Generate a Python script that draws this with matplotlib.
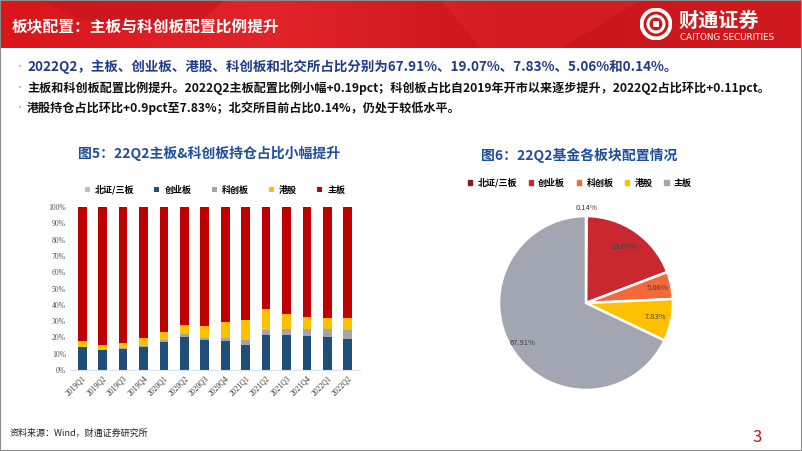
import numpy as np
import matplotlib.pyplot as plt
from matplotlib.patches import Rectangle, Circle, Polygon, Patch
from matplotlib.colors import LinearSegmentedColormap

plt.rcParams['font.family'] = ['Noto Sans CJK SC', 'DejaVu Sans']

# 持仓占比（%），按季度
quarters = ['2019Q1', '2019Q2', '2019Q3', '2019Q4', '2020Q1', '2020Q2', '2020Q3',
            '2020Q4', '2021Q1', '2021Q2', '2021Q3', '2021Q4', '2022Q1', '2022Q2']
bse = [0.0, 0.0, 0.0, 0.0, 0.05, 0.05, 0.05, 0.05, 0.05, 0.05, 0.05, 0.1, 0.12, 0.14]
gem = [13.9, 12.2, 12.9, 14.3, 17.1, 20.4, 18.2, 17.8, 15.5, 21.2, 21.6, 20.8, 20.4, 19.07]
star = [0.0, 0.0, 0.3, 0.6, 1.3, 1.8, 1.6, 2.0, 2.7, 3.5, 3.7, 4.1, 4.7, 5.06]
hk = [3.7, 3.3, 3.4, 4.5, 4.7, 5.1, 7.1, 9.4, 12.6, 12.4, 9.0, 7.5, 6.9, 7.83]
main = [100 - a - b - c - d for a, b, c, d in zip(bse, gem, star, hk)]

pie_labels = ['北证/三板', '创业板', '科创板', '港股', '主板']
pie_vals = [0.14, 19.07, 5.06, 7.83, 67.91]

W, H = 802, 451
fig = plt.figure(figsize=(W / 100, H / 100), dpi=100)

def fx(x):
    return x / W

def fy(y):
    return 1 - y / H

# ---- 顶部红色标题栏
hdr = fig.add_axes([0, fy(48), 1, 48 / H])
grad = np.linspace(0, 1, 256).reshape(1, -1)
cm = LinearSegmentedColormap.from_list('hdr', ['#D9161C', '#E0242A', '#C8141A', '#D01A20'])
hdr.imshow(grad, aspect='auto', cmap=cm, extent=[0, 1, 0, 1])
hdr.add_patch(Polygon([[0.05, 1], [0.28, 1], [0.24, 0.4], [0.1, 0.6]], closed=True,
                      color='#C0121A', alpha=0.5, lw=0))
hdr.add_patch(Polygon([[0.55, 1], [0.8, 1], [0.7, 0.0], [0.6, 0.0]], closed=True,
                      color='#F0343A', alpha=0.25, lw=0))
hdr.set_xlim(0, 1)
hdr.set_ylim(0, 1)
hdr.axis('off')

fig.text(fx(12), fy(27), '板块配置：主板与科创板配置比例提升', color='white',
         fontsize=11.3, fontweight='bold', va='center', ha='left')

# logo
lx, ly = 656, 24
logo = fig.add_axes([fx(lx - 16), fy(ly + 16), 32 / W, 32 / H])
logo.set_xlim(-1, 1)
logo.set_ylim(-1, 1)
logo.set_aspect('equal')
logo.axis('off')
logo.add_patch(Circle((0, 0), 0.9, fc='none', ec='white', lw=2.8))
logo.add_patch(Circle((0, 0), 0.5, fc='none', ec='white', lw=2.2))
logo.add_patch(Rectangle((-0.17, -0.17), 0.34, 0.34, fc='white', ec='none'))
fig.text(fx(679), fy(20), '财通证券', color='white', fontsize=14.5, fontweight='bold',
         va='center', ha='left')
fig.text(fx(680), fy(38), 'CAITONG SECURITIES', color='white', fontsize=6.3,
         va='center', ha='left', family=['DejaVu Sans'])

# ---- 要点
bullet_c = '#E3A46E'
lines = [
    ('2022Q2，主板、创业板、港股、科创板和北交所占比分别为67.91%、19.07%、7.83%、5.06%和0.14%。', 67, '#1F3C8C', 9.7),
    ('主板和科创板配置比例提升。2022Q2主板配置比例小幅+0.19pct；科创板占比自2019年开市以来逐步提升，2022Q2占比环比+0.11pct。', 88, '#111111', 8.7),
    ('港股持仓占比环比+0.9pct至7.83%；北交所目前占比0.14%，仍处于较低水平。', 108, '#111111', 8.7),
]
for txt, y, c, fs in lines:
    fig.text(fx(14), fy(y), '•', color=bullet_c, fontsize=7, va='center', ha='left')
    fig.text(fx(27), fy(y), txt, color=c, fontsize=fs, fontweight='bold', va='center', ha='left')

title_c = '#1F4E9A'
fig.text(fx(209), fy(153), '图5：22Q2主板&科创板持仓占比小幅提升', color=title_c,
         fontsize=10, fontweight='bold', ha='center', va='center')
fig.text(fx(579), fy(155), '图6：22Q2基金各板块配置情况', color=title_c,
         fontsize=10, fontweight='bold', ha='center', va='center')

# ---- 图5：堆积柱状图
ax = fig.add_axes([fx(70), fy(370), (360 - 70) / W, (370 - 207) / H])
x = np.arange(len(quarters))
bw = 0.43
series = [('北证/三板', bse, '#BFBFBF'), ('创业板', gem, '#1F4E79'),
          ('科创板', star, '#A5A5A5'), ('港股', hk, '#FFC000'), ('主板', main, '#C00000')]
bottom = np.zeros(len(quarters))
for name, vals, col in series:
    ax.bar(x, vals, bw, bottom=bottom, color=col, label=name, lw=0)
    bottom += np.array(vals)
ax.set_ylim(0, 100)
ax.set_xlim(-0.6, len(quarters) - 0.4)
ax.set_yticks(np.arange(0, 101, 10))
ax.set_yticklabels([f'{v}%' for v in range(0, 101, 10)], family=['Liberation Serif'],
                   fontsize=5.5, color='#555555')
ax.set_xticks(x)
ax.set_xticklabels(quarters, rotation=45, ha='right', rotation_mode='anchor',
                   family=['Liberation Serif'], fontsize=5.5, color='#333333')
ax.tick_params(length=0, pad=3)
for s in ['top', 'right', 'left']:
    ax.spines[s].set_visible(False)
ax.spines['bottom'].set_color('#D9E1EA')
ax.legend(loc='center', bbox_to_anchor=(0.5, 1.105), ncol=5, frameon=False,
          prop=dict(size=6.5, weight='bold'), handlelength=0.55, handleheight=0.55,
          columnspacing=2.2, handletextpad=0.6)

# ---- 图6：饼图
pax = fig.add_axes([fx(486), fy(403), 200 / W, 200 / H])
pie_cols = ['#8B1A1A', '#C8282E', '#F26A3A', '#FFC000', '#A2A6B2']
wedges, _ = pax.pie(pie_vals, colors=pie_cols, startangle=90, counterclock=False,
                    wedgeprops=dict(edgecolor='white', linewidth=1.8))
pax.set_xlim(-1.15, 1.15)
pax.set_ylim(-1.15, 1.15)
dists = [1.09, 0.78, 0.84, 0.81, 0.86]
for w, v, d in zip(wedges, pie_vals, dists):
    ang = np.deg2rad((w.theta1 + w.theta2) / 2)
    pax.text(d * np.cos(ang), d * np.sin(ang), f'{v:.2f}%', fontsize=5.5,
             color='#404040', ha='center', va='center')
handles = [Patch(color=c) for c in pie_cols]
pax.legend(handles, pie_labels, loc='center', bbox_to_anchor=(0.47, 1.1), ncol=5,
           frameon=False, prop=dict(size=6.5, weight='bold'), handlelength=0.45,
           handleheight=0.45, columnspacing=1.3, handletextpad=0.6)

# ---- 页脚
fig.text(fx(10), fy(433), '资料来源：Wind，财通证券研究所', fontsize=6.5, color='#222222',
         va='center', ha='left')
fig.text(fx(757), fy(437), '3', fontsize=12, color='#B0181E', va='center', ha='center')

# 外框
fig.add_artist(Rectangle((0, 0), 1, 1, transform=fig.transFigure, fill=False,
                         ec='#8C8C8C', lw=1.5))

fig.savefig('out.png', dpi=100)
